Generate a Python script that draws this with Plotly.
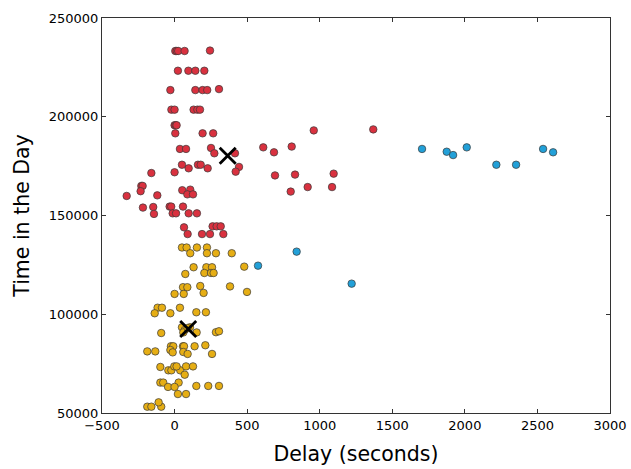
import plotly.graph_objects as go

red_x = [5, 15, 25, 69, 244,
         23, 95, 143, 205,
         -29, 143, 193, 225, 306,
         -22, 0, 131, 157, 175,
         0, 8, 14,
         5, 193, 266,
         37, 79, 251, 274, 416, 611, 685, 807,
         51, 161, 180, 97, 228, 444, 421, -160, 0, 692, 830, 1096,
         959, 1369,
         -229, -220, -234, -330, -119, 53, 108, 88, 127, 800, 917, 1085,
         -218, -147, -142, -34, -23, 58, -13, 10, 97, 154,
         65, 90, 189, 244, 336, 262, 290, 318]
red_y = [233300, 233300, 233300, 233300, 233500,
         223300, 223300, 223300, 223300,
         213500, 213500, 213500, 213500, 214000,
         203600, 203600, 203600, 203600, 203600,
         195700, 195700, 195700,
         191600, 191600, 191600,
         183700, 183700, 184200, 181500, 181500, 184500, 182000, 184900,
         175700, 175700, 175700, 173900, 173900, 174600, 172200, 171500, 171900, 170300, 170700, 171200,
         193100, 193600,
         165000, 165000, 162300, 159900, 160200, 162800, 163100, 160700, 160700, 162100, 164400, 164400,
         154000, 154300, 150800, 154500, 154500, 154500, 151100, 151100, 151100, 151100,
         144000, 140600, 140600, 140600, 140600, 144500, 144500, 144500]

yellow_x = [51, 83, 154, 223,
            108, 223, 285, 394,
            131, 219, 258, 480,
            74, 205, 251, 269,
            58, 88, 177, 200, 382, 499, 0, 63,
            -117, -87, 37, -137, -29, 150, 216,
            51, 106, 70, 60, 152, 90, -92, 285, 306,
            -25, -9, 58, 65, 138, 212,
            -188, -133, -29, -13, 60, 90, 258,
            -98, -43, -22, 39, -2, 14, 79, 127, 70,
            -98, -78, 28, -45, 0, 150, 232, 306,
            23, 79,
            -188, -160, -92, -110]
yellow_y = [133800, 133800, 133800, 133800,
            130900, 130900, 130900, 130900,
            123800, 123800, 123800, 124100,
            120400, 120900, 120900, 120900,
            113700, 113700, 114300, 110800, 114100, 111300, 110300, 110300,
            103300, 103300, 103300, 100500, 100500, 101000, 101000,
            93400, 93400, 92000, 90800, 90800, 93000, 90500, 90900, 91400,
            83800, 83800, 83800, 83800, 83800, 84300,
            81200, 81200, 81900, 80700, 80900, 79900, 79900,
            73300, 71600, 71600, 71600, 73600, 73600, 73600, 73600, 69400,
            65400, 65400, 65400, 63200, 63200, 63700, 63700, 63700,
            59600, 59600,
            53200, 53200, 53200, 55400]

blue_x = [1705, 1875, 1919, 2013, 2217, 2353, 2539, 2608, 841, 1220, 575]
blue_y = [183700, 182300, 180600, 184500, 175700, 175700, 183700, 182000, 131700, 115500, 124600]

centroid_x = [366, 94]
centroid_y = [180300, 92500]

x_ticks = [-500, 0, 500, 1000, 1500, 2000, 2500, 3000]
y_ticks = [50000, 100000, 150000, 200000, 250000]

fig = go.Figure()
for xs, ys, col in [(red_x, red_y, "#d9313f"),
                    (yellow_x, yellow_y, "#e6ae14"),
                    (blue_x, blue_y, "#22a0d8")]:
    fig.add_trace(go.Scatter(
        x=xs, y=ys, mode="markers",
        marker=dict(size=7.5, color=col, opacity=1,
                    line=dict(color="#3a3a3a", width=0.7)),
        showlegend=False, hoverinfo="skip"))

fig.add_trace(go.Scatter(
    x=centroid_x, y=centroid_y, mode="markers",
    marker=dict(symbol="x-thin", size=16, color="black",
                line=dict(color="black", width=2.8)),
    showlegend=False, hoverinfo="skip"))

axis_common = dict(showgrid=False, zeroline=False, showline=True, linecolor="#333333",
                   linewidth=1, mirror="ticks", ticks="inside", ticklen=4,
                   tickcolor="#333333", automargin=False,
                   tickfont=dict(size=13, color="black", family="DejaVu Sans"))
fig.update_xaxes(range=[-500, 3000], tickvals=x_ticks,
                 ticktext=["\u2212500" if t < 0 else str(t) for t in x_ticks],
                 title=dict(text="Delay (seconds)", font=dict(size=20.5, color="black",
                                                               family="DejaVu Sans"),
                            standoff=15),
                 **axis_common)
fig.update_yaxes(range=[50000, 250000], tickvals=y_ticks,
                 ticktext=[str(t) for t in y_ticks],
                 title=dict(text="Time in the Day", font=dict(size=20.5, color="black",
                                                               family="DejaVu Sans"),
                            standoff=13),
                 **axis_common)
fig.update_layout(width=631, height=469, plot_bgcolor="white", paper_bgcolor="white",
                  margin=dict(l=102, r=21, t=18, b=56),
                  font=dict(family="DejaVu Sans", color="black"))
fig.write_html("out.html", config={"displayModeBar": False},
               post_script="document.body.style.margin='0';document.body.style.overflow='hidden';")
